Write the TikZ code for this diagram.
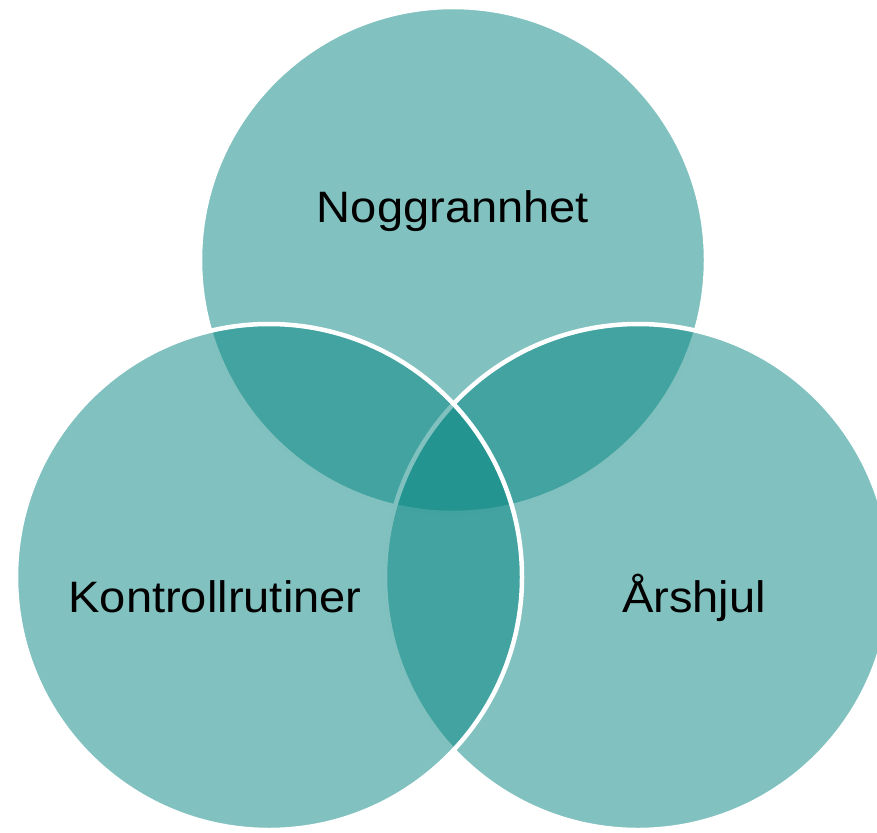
\documentclass[tikz,border=0pt]{standalone}
\usepackage{fontspec}
\newfontfamily\vennfont{Liberation Sans}[FakeStretch=1.07]
\definecolor{vennteal}{RGB}{7,134,130}
\tikzset{
	venncircle/.style={fill=vennteal, fill opacity=0.51, draw=white, line width=4.5pt},
	vennlabel/.style={font=\vennfont\fontsize{44}{53}\selectfont, text=black, anchor=base, inner sep=0pt}
}

\begin{document}
\begin{tikzpicture}[x=1pt, y=-1pt]
			%%%%% START %%%%%
			
			\useasboundingbox (0, 0) rectangle (877, 832);
			
			\coordinate (topc) at (453, 260);
			\coordinate (rightc) at (638, 577);
			\coordinate (leftc) at (269, 577);
			
			\draw[venncircle] (topc) circle (253pt);
			\draw[venncircle] (rightc) circle (253pt);
			\draw[venncircle] (leftc) circle (253pt);
			
			\node[vennlabel] (noggrannhet) at (453, 222) {Noggrannhet};
			\node[vennlabel] (kontroll) at (215, 612) {Kontrollrutiner};
			\node[vennlabel] (arshjul) at (694, 612) {Årshjul};
			
			%%%%% END %%%%%
		\end{tikzpicture}
\end{document}
